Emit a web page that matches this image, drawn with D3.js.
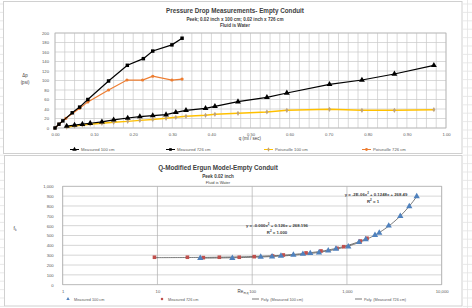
<!DOCTYPE html>
<html>
<head>
<meta charset="utf-8">
<script src="https://cdn.jsdelivr.net/npm/d3@7"></script>
<style>
  body { margin: 0; background: #fff; }
  svg { display: block; font-family: "Liberation Sans", Arial, sans-serif; }
</style>
</head>
<body>
<svg id="sheet" width="472" height="308"></svg>
<script>
// ---- top chart data: pressure drop vs flow rate ----
let m100Q = [0.03, 0.05, 0.07, 0.09, 0.12, 0.15, 0.186, 0.217, 0.25, 0.284, 0.309, 0.335, 0.385, 0.409, 0.468, 0.542, 0.593, 0.702, 0.785, 0.868, 0.969]
let m100P = [4, 6, 8, 10, 13, 17, 21, 24, 26, 28, 33, 37, 41.5, 45.7, 55.4, 64.6, 73.7, 92, 101, 113.7, 132]
let m726Q = [0, 0.01, 0.02, 0.044, 0.063, 0.084, 0.137, 0.185, 0.226, 0.25, 0.299, 0.325]
let m726P = [0, 8, 15, 32, 44, 60, 99, 132, 146, 162, 175, 189]
let p100Q = [0.03, 0.05, 0.07, 0.09, 0.12, 0.15, 0.186, 0.217, 0.25, 0.284, 0.309, 0.335, 0.385, 0.409, 0.468, 0.542, 0.593, 0.702, 0.785, 0.868, 0.969]
let p100P = [2, 4, 6, 8, 10, 12, 14, 16, 18, 20.4, 22.5, 24.6, 26.7, 28.8, 31, 33.7, 37.3, 39.4, 37.3, 37.3, 38.5]
let p726Q = [0, 0.01, 0.028, 0.063, 0.084, 0.137, 0.184, 0.224, 0.25, 0.299, 0.325]
let p726P = [0, 8, 20.4, 41.5, 55, 80, 101, 101, 109, 101, 103]
let topXTicks = [0, 0.1, 0.2, 0.3, 0.4, 0.5, 0.6, 0.7, 0.8, 0.9, 1.0]
let topYTicks = [0, 20, 40, 60, 80, 100, 120, 140, 160, 180, 200]

// ---- bottom chart data: friction factor vs modified Reynolds number ----
let e100Re = [28.3, 61.7, 123, 162, 201, 272, 343, 410, 507, 635, 766, 1033, 1341, 1578, 1977, 2193, 2759, 3656, 4550, 5448]
let e100F = [269, 269, 282, 285, 292, 302, 312, 319, 326, 346, 363, 386, 431, 461, 504, 527, 599, 697, 796, 898]
let e726Re = [9.3, 20.7, 30.5, 45, 73, 105, 164, 213, 370, 532, 785, 925, 1384, 1629]
let e726F = [279, 279, 275, 279, 279, 285, 292, 302, 323, 343, 370, 386, 444, 472]
let botXTicks = [1, 10, 100, 1000, 10000]
let botYTicks = [0, 100, 200, 300, 400, 500, 600, 700, 800, 900, 1000]

const svg = d3.select('#sheet')

// spreadsheet cell lines peeking out around the chart objects
let rows = d3.range(4, 308, 8.4)
svg.selectAll('.row-l').data(rows).join('line')
    .attr('x1', 0).attr('x2', 4).attr('y1', d => d).attr('y2', d => d)
    .attr('stroke', '#e3e3e3').attr('stroke-width', 0.8)
svg.selectAll('.row-r').data(rows).join('line')
    .attr('x1', 463).attr('x2', 472).attr('y1', d => d).attr('y2', d => d)
    .attr('stroke', '#e3e3e3').attr('stroke-width', 0.8)
svg.append('line').attr('x1', 467.5).attr('x2', 467.5).attr('y1', 0).attr('y2', 308)
    .attr('stroke', '#e3e3e3').attr('stroke-width', 0.8)

// chart frames
svg.append('rect').attr('x', 3.5).attr('y', 1.5).attr('width', 458.5).attr('height', 152)
    .attr('fill', '#fff').attr('stroke', '#d0d0d0')
svg.append('rect').attr('x', 4.5).attr('y', 155.5).attr('width', 457.5).attr('height', 150.5)
    .attr('fill', '#fff').attr('stroke', '#d0d0d0')

let sym = function(type, size) {
    return d3.symbol().type(type).size(size)()
}

let text = function(g, x, y, str, size, weight, anchor) {
    return g.append('text')
        .attr('x', x).attr('y', y)
        .attr('font-size', size)
        .attr('font-weight', weight || 'normal')
        .attr('text-anchor', anchor || 'middle')
        .attr('fill', '#404040')
        .text(str)
}

// ================= top chart =================
{
    const g = svg.append('g')
    const x = d3.scaleLinear().domain([0, 1]).range([55, 446])
    const y = d3.scaleLinear().domain([0, 200]).range([128, 33])

    g.selectAll('.vg').data(d3.range(0, 1.0001, 0.025)).join('line')
        .attr('x1', d => x(d)).attr('x2', d => x(d))
        .attr('y1', y(0)).attr('y2', y(200))
        .attr('stroke', '#c8c8c8').attr('stroke-width', 0.7)
    g.selectAll('.hg').data(topYTicks).join('line')
        .attr('x1', x(0)).attr('x2', x(1))
        .attr('y1', d => y(d)).attr('y2', d => y(d))
        .attr('stroke', '#c8c8c8').attr('stroke-width', 0.7)
    g.append('rect').attr('x', x(0)).attr('y', y(200))
        .attr('width', x(1) - x(0)).attr('height', y(0) - y(200))
        .attr('fill', 'none').attr('stroke', '#b5b5b5').attr('stroke-width', 0.7)

    const xAxis = g.append('g').attr('transform', 'translate(0,' + y(0) + ')')
        .call(d3.axisBottom(x).tickValues(topXTicks).tickFormat(d3.format('.2f')).tickSize(0).tickPadding(5))
    const yAxis = g.append('g').attr('transform', 'translate(' + x(0) + ',0)')
        .call(d3.axisLeft(y).tickValues(topYTicks).tickSize(0).tickPadding(6))
    ;[xAxis, yAxis].forEach(a => {
        a.select('.domain').remove()
        a.selectAll('text').attr('font-size', 4.2).attr('fill', '#595959')
            .attr('font-family', '"Liberation Sans", Arial, sans-serif')
    })

    text(g, 235, 13, 'Pressure Drop Measurements- Empty Conduit', 6.3, 'bold')
    text(g, 235, 20.5, 'Peek; 0.02 inch x 100 cm; 0.02 inch x 726 cm', 4.6, 'bold')
    text(g, 235, 27, 'Fluid is Water', 4.6, 'bold')
    text(g, 25, 77, 'Δp', 4.5)
    text(g, 25, 84, '(psi)', 4.5)
    text(g, 250, 140, 'q (ml / sec)', 4.5)

    const line = d3.line().x(d => x(d[0])).y(d => y(d[1]))
    let series = [
        { q: p100Q, p: p100P, color: '#FFC000', w: 1.4, mk: d3.symbolDiamond, ms: 8, mc: '#BFA37A' },
        { q: p726Q, p: p726P, color: '#ED7D31', w: 1.2, mk: d3.symbolCircle, ms: 8, mc: '#ED7D31' },
        { q: m100Q, p: m100P, color: '#000', w: 1.2, mk: d3.symbolTriangle, ms: 15, mc: '#000' },
        { q: m726Q, p: m726P, color: '#000', w: 1.2, mk: d3.symbolSquare, ms: 12, mc: '#000' }
    ]
    series.forEach(s => {
        let pts = s.q.map((q, i) => [q, s.p[i]])
        g.append('path').attr('d', line(pts)).attr('fill', 'none')
            .attr('stroke', s.color).attr('stroke-width', s.w)
        g.selectAll(null).data(pts).join('path')
            .attr('d', sym(s.mk, s.ms))
            .attr('transform', d => 'translate(' + x(d[0]) + ',' + y(d[1]) + ')')
            .attr('fill', s.mc)
    })

    let legend = [
        { name: 'Measured 100 cm', color: '#000', mk: d3.symbolTriangle, ms: 9, mc: '#000', x: 70 },
        { name: 'Measured 726 cm', color: '#000', mk: d3.symbolSquare, ms: 7, mc: '#000', x: 166 },
        { name: 'Poiseuille 100 cm', color: '#FFC000', mk: d3.symbolDiamond, ms: 6, mc: '#BFA37A', x: 264 },
        { name: 'Poiseuille 726 cm', color: '#ED7D31', mk: d3.symbolCircle, ms: 6, mc: '#ED7D31', x: 362 }
    ]
    legend.forEach(l => {
        g.append('line').attr('x1', l.x).attr('x2', l.x + 9).attr('y1', 149.5).attr('y2', 149.5)
            .attr('stroke', l.color).attr('stroke-width', 1)
        g.append('path').attr('d', sym(l.mk, l.ms))
            .attr('transform', 'translate(' + (l.x + 4.5) + ',149.5)').attr('fill', l.mc)
        text(g, l.x + 11, 151, l.name, 4.2, 'normal', 'start').attr('fill', '#595959')
    })
}

// ================= bottom chart =================
{
    const g = svg.append('g')
    const x = d3.scaleLog().domain([1, 10000]).range([62.7, 441.7])
    const y = d3.scaleLinear().domain([0, 1000]).range([284.7, 186.3])

    g.selectAll('.hg').data(botYTicks).join('line')
        .attr('x1', x(1)).attr('x2', x(10000))
        .attr('y1', d => y(d)).attr('y2', d => y(d))
        .attr('stroke', '#c4c4c4').attr('stroke-width', 0.7)
    g.selectAll('.vg').data(botXTicks).join('line')
        .attr('x1', d => x(d)).attr('x2', d => x(d))
        .attr('y1', y(0)).attr('y2', y(1000))
        .attr('stroke', '#b0b0b0').attr('stroke-width', 0.7)
    g.append('rect').attr('x', x(1)).attr('y', y(1000))
        .attr('width', x(10000) - x(1)).attr('height', y(0) - y(1000))
        .attr('fill', 'none').attr('stroke', '#b5b5b5').attr('stroke-width', 0.7)

    const xAxis = g.append('g').attr('transform', 'translate(0,' + y(0) + ')')
        .call(d3.axisBottom(x).tickValues(botXTicks).tickFormat(d3.format(',')).tickSize(0).tickPadding(5))
    const yAxis = g.append('g').attr('transform', 'translate(' + x(1) + ',0)')
        .call(d3.axisLeft(y).tickValues(botYTicks).tickFormat(d3.format(',')).tickSize(0).tickPadding(9))
    ;[xAxis, yAxis].forEach(a => {
        a.select('.domain').remove()
        a.selectAll('text').attr('font-size', 4.2).attr('fill', '#595959')
            .attr('font-family', '"Liberation Sans", Arial, sans-serif')
    })

    text(g, 218, 170, 'Q-Modified Ergun Model-Empty Conduit', 6.3, 'bold')
    text(g, 218, 177.5, 'Peek 0.02 inch', 4.6, 'bold')
    text(g, 218, 183.5, 'Fluid is Water', 4.0)
    const fk = text(g, 15, 230, 'f', 4.8)
    fk.append('tspan').attr('font-size', 3.2).attr('dy', 1.2).text('k')
    const re = text(g, 243, 293, 'Re', 4.5)
    re.append('tspan').attr('font-size', 3).attr('dy', 1.2).text('m,q')

    // Excel-style 2nd order polynomial trendlines (least squares on the plotted data)
    let polyFit = function(xs, ys) {
        let s = [0, 0, 0, 0, 0], t = [0, 0, 0]
        xs.forEach((v, i) => {
            for (let k = 0; k < 5; k++) s[k] += Math.pow(v, k)
            for (let k = 0; k < 3; k++) t[k] += ys[i] * Math.pow(v, k)
        })
        let A = [[s[0], s[1], s[2], t[0]], [s[1], s[2], s[3], t[1]], [s[2], s[3], s[4], t[2]]]
        for (let c = 0; c < 3; c++) {
            for (let r = c + 1; r < 3; r++) {
                let f = A[r][c] / A[c][c]
                for (let k = c; k < 4; k++) A[r][k] -= f * A[c][k]
            }
        }
        let b = [0, 0, 0]
        for (let r = 2; r >= 0; r--) {
            let v = A[r][3]
            for (let k = r + 1; k < 3; k++) v -= A[r][k] * b[k]
            b[r] = v / A[r][r]
        }
        return b
    }
    const line = d3.line().x(d => x(d[0])).y(d => y(d[1]))
    ;[[e726Re, e726F], [e100Re, e100F]].forEach(s => {
        let b = polyFit(s[0], s[1])
        let lo = Math.log10(d3.min(s[0])), hi = Math.log10(d3.max(s[0]))
        let pts = d3.range(0, 121).map(i => {
            let v = Math.pow(10, lo + (hi - lo) * i / 120)
            return [v, b[0] + b[1] * v + b[2] * v * v]
        })
        g.append('path').attr('d', line(pts)).attr('fill', 'none')
            .attr('stroke', '#404040').attr('stroke-width', 0.7)
    })

    g.selectAll('.sq').data(e726Re.map((v, i) => [v, e726F[i]])).join('path')
        .attr('d', sym(d3.symbolSquare, 13))
        .attr('transform', d => 'translate(' + x(d[0]) + ',' + y(d[1]) + ')')
        .attr('fill', '#C0504D')
    g.selectAll('.tri').data(e100Re.map((v, i) => [v, e100F[i]])).join('path')
        .attr('d', sym(d3.symbolTriangle, 17))
        .attr('transform', d => 'translate(' + x(d[0]) + ',' + y(d[1]) + ')')
        .attr('fill', '#4F81BD')

    const eq1 = text(g, 376, 195.5, 'y = -2E-06x', 4.3, 'bold')
    eq1.append('tspan').attr('font-size', 3).attr('dy', -1.5).text('2')
    eq1.append('tspan').attr('dy', 1.5).text(' + 0.1248x + 268.49')
    const r1 = text(g, 373, 202.5, 'R', 4.3, 'bold')
    r1.append('tspan').attr('font-size', 3).attr('dy', -1.5).text('2')
    r1.append('tspan').attr('dy', 1.5).text(' = 1')

    const eq2 = text(g, 277, 226.5, 'y = -0.000x', 4.3, 'bold')
    eq2.append('tspan').attr('font-size', 3).attr('dy', -1.5).text('2')
    eq2.append('tspan').attr('dy', 1.5).text(' + 0.126x + 268.196')
    const r2 = text(g, 277, 233.5, 'R', 4.3, 'bold')
    r2.append('tspan').attr('font-size', 3).attr('dy', -1.5).text('2')
    r2.append('tspan').attr('dy', 1.5).text(' = 1.000')

    let legend = [
        { name: 'Measured 100 cm', mk: d3.symbolTriangle, c: '#4F81BD', x: 68 },
        { name: 'Measured 726 cm', mk: d3.symbolSquare, c: '#C0504D', x: 162 },
        { name: 'Poly. (Measured 100 cm)', line: true, x: 252 },
        { name: 'Poly. (Measured 726 cm)', line: true, x: 355 }
    ]
    legend.forEach(l => {
        if (l.line) {
            g.append('line').attr('x1', l.x).attr('x2', l.x + 7).attr('y1', 299).attr('y2', 299)
                .attr('stroke', '#404040').attr('stroke-width', 0.7)
            text(g, l.x + 9, 300.5, l.name, 3.8, 'normal', 'start').attr('fill', '#595959')
        } else {
            g.append('path').attr('d', sym(l.mk, 5))
                .attr('transform', 'translate(' + l.x + ',299)').attr('fill', l.c)
            text(g, l.x + 6, 300.5, l.name, 3.8, 'normal', 'start').attr('fill', '#595959')
        }
    })
}
</script>
</body>
</html>
